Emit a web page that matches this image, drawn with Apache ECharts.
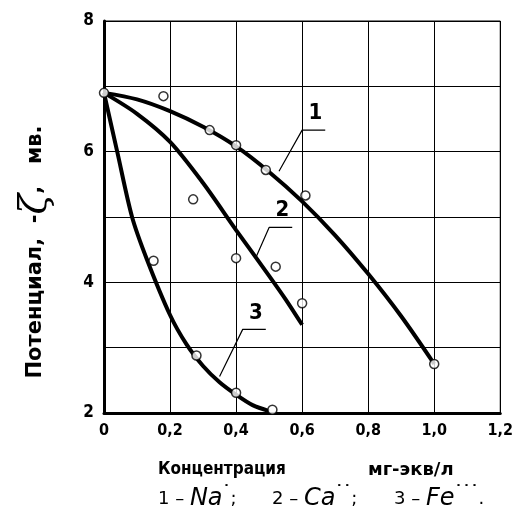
<!DOCTYPE html>
<html><head><meta charset="utf-8">
<script src="https://cdn.jsdelivr.net/npm/echarts@6/dist/echarts.min.js"></script>
<style>html,body{margin:0;padding:0;background:#fff}#c{width:516px;height:516px}</style>
</head><body><div id="c"></div>
<script>
// ---- data ----
const xTicks = [0, 0.2, 0.4, 0.6, 0.8, 1.0, 1.2];
const yTicks = [2, 4, 6, 8];
// smooth fitted curves
const curveNa = [[0,6.9],[0.1,6.8],[0.2,6.62],[0.3,6.38],[0.4,6.08],[0.5,5.69],[0.6,5.24],[0.7,4.72],[0.8,4.13],[0.9,3.48],[1.0,2.75]];
const curveCa = [[0,6.9],[0.1,6.58],[0.2,6.15],[0.3,5.52],[0.4,4.8],[0.5,4.1],[0.55,3.74],[0.6,3.35]];
const curveFe = [[0,6.9],[0.04,6.0],[0.085,5.0],[0.13,4.35],[0.2,3.5],[0.25,3.05],[0.3,2.72],[0.35,2.47],[0.4,2.28],[0.45,2.12],[0.5,2.03]];
// measured points (open circles)
const pointsNa = [[0,6.9],[0.18,6.85],[0.32,6.33],[0.4,6.1],[0.49,5.72],[0.61,5.33],[1.0,2.75]];
const pointsCa = [[0.27,5.27],[0.4,4.37],[0.52,4.24],[0.6,3.68]];
const pointsFe = [[0.15,4.33],[0.28,2.88],[0.4,2.31],[0.51,2.05]];
// leader lines: curve point -> elbow -> underline end; label position
const leaders = [
  {text:'1', path:[[0.53,5.70],[0.60,6.33],[0.67,6.33]], at:[0.64,6.58]},
  {text:'2', path:[[0.46,4.38],[0.50,4.84],[0.57,4.84]], at:[0.54,5.10]},
  {text:'3', path:[[0.35,2.56],[0.42,3.28],[0.49,3.28]], at:[0.46,3.52]}
];
const yName = 'Потенциал';
const xName1 = 'Концентрация';
const xName2 = 'мг-экв/л';
const legendItems = [['1', 'Na', '˙'], ['2', 'Ca', '˙˙'], ['3', 'Fe', '˙˙˙']];

const FONT = '"DejaVu Sans Condensed", "DejaVu Sans", sans-serif';
const chart = echarts.init(document.getElementById('c'));

const curveSeries = (d) => ({type:'line', data:d, smooth:0.3, symbol:'none',
  lineStyle:{color:'#000', width:4}, z:3, silent:true});
const ptSeries = (d) => ({type:'scatter', data:d, symbol:'circle', symbolSize:9,
  itemStyle:{color:'#fff', borderColor:'#000', borderWidth:1.5}, z:5, silent:true});
const leaderSeries = leaders.map(l => ({type:'line', data:l.path, symbol:'none',
  lineStyle:{color:'#000', width:1.2}, z:4, silent:true}));

chart.setOption({
  animation:false,
  backgroundColor:'#fff',
  grid:{left:104, right:12, top:21, bottom:103, show:true, borderColor:'#000', borderWidth:1},
  xAxis:{type:'value', min:0, max:1.2, interval:0.2,
    axisLine:{onZero:false, lineStyle:{color:'#000', width:3}},
    axisTick:{show:false},
    splitLine:{show:true, lineStyle:{color:'#000', width:1}},
    axisLabel:{color:'#000', fontFamily:FONT, fontWeight:'bold', fontSize:16, margin:10,
      formatter:v => xTicks.some(t=>Math.abs(t-v)<1e-9) ? (v===0?'0':v.toFixed(1).replace('.',',')) : ''}},
  yAxis:{type:'value', min:2, max:8, interval:1,
    axisLine:{onZero:false, lineStyle:{color:'#000', width:3}},
    axisTick:{show:false},
    splitLine:{show:true, lineStyle:{color:'#000', width:1}},
    axisLabel:{color:'#000', fontFamily:FONT, fontWeight:'bold', fontSize:17, margin:10,
      formatter:v => yTicks.includes(v) ? String(v) : ''}},
  series:[curveSeries(curveNa), curveSeries(curveCa), curveSeries(curveFe),
    ptSeries(pointsNa), ptSeries(pointsCa), ptSeries(pointsFe), ...leaderSeries]
});

const g = [];
leaders.forEach(l => {
  const p = chart.convertToPixel({gridIndex:0}, l.at);
  g.push({type:'text', x:p[0], y:p[1], style:{text:l.text, fill:'#000',
    font:'bold 22px '+FONT, align:'center', verticalAlign:'middle'}});
});
// y-axis name
g.push({type:'text', x:36, y:252, rotation:Math.PI/2,
  style:{rich:{
    a:{fontFamily:'"DejaVu Sans", sans-serif', fontWeight:'bold', fontSize:21, fill:'#000'},
    z:{fontFamily:'"DejaVu Serif", serif', fontStyle:'italic', fontSize:38, fill:'#000'}
  }, text:'{a|'+yName+',  -}{z|ζ}{a|,   мв.}', align:'center', verticalAlign:'middle'}});
// x-axis name
g.push({type:'text', x:158, y:470, style:{text:xName1, fill:'#000',
  font:'bold 17px "DejaVu Sans Condensed", sans-serif', align:'left', verticalAlign:'middle'}});
g.push({type:'text', x:368, y:470, style:{text:xName2, fill:'#000',
  font:'bold 18px "DejaVu Sans", sans-serif', align:'left', verticalAlign:'middle'}});
// legend line
const legX = [158, 272, 394];
legendItems.forEach((it, i) => {
  g.push({type:'text', x:legX[i], y:499, style:{rich:{
      n:{fontFamily:'"DejaVu Sans", sans-serif', fontSize:18, fill:'#000'},
      i:{fontFamily:'"DejaVu Sans", sans-serif', fontStyle:'italic', fontSize:24, fill:'#000'},
      s:{fontFamily:'"DejaVu Sans", sans-serif', fontWeight:'bold', fontSize:16, fill:'#000', verticalAlign:'top', padding:[0,0,12,0]}
    }, text:'{n|'+it[0]+' – }{i|'+it[1]+'}{s|'+it[2]+'}{n|'+(i<2?';':'.')+'}',
    align:'left', verticalAlign:'middle'}});
});
chart.setOption({graphic:g});
</script></body></html>
